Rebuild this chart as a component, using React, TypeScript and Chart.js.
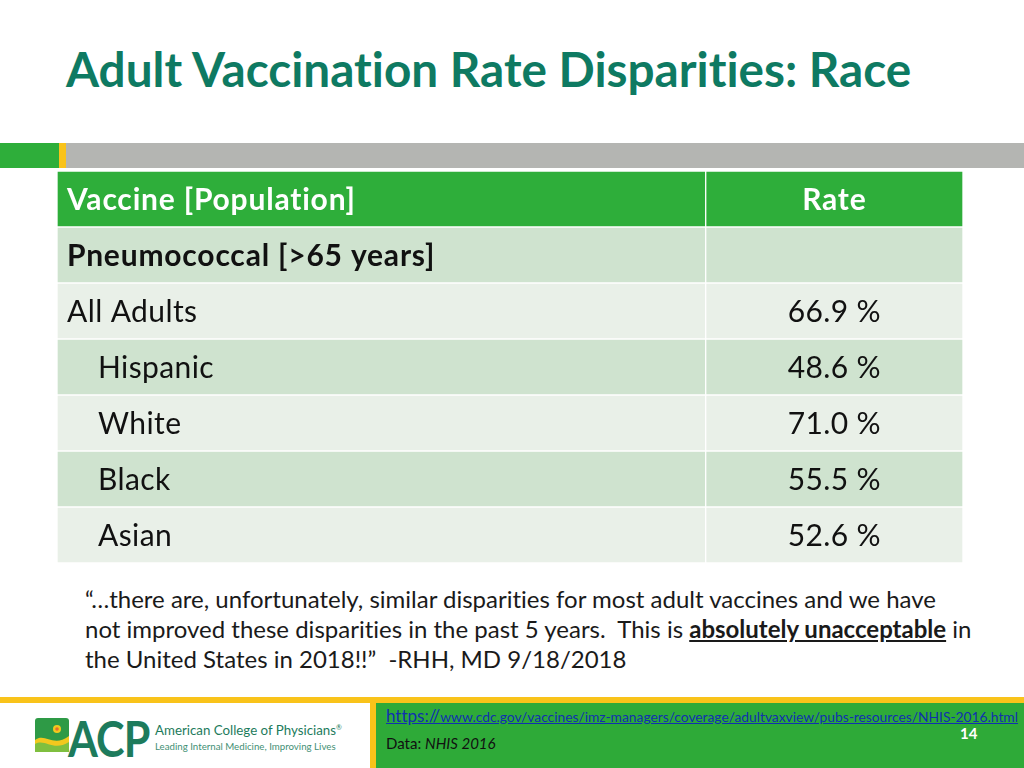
import React, { useEffect, useRef } from "react";
import { Chart, registerables } from "chart.js";

Chart.register(...registerables);

// ---- data ----
const rowLabels = [
  "Vaccine [Population]",
  "Pneumococcal [>65 years]",
  "All Adults",
  "Hispanic",
  "White",
  "Black",
  "Asian",
];
const rowKinds = ["header", "section", "total", "sub", "sub", "sub", "sub"];
const rateHeader = "Rate";
const rateValues: (number | null)[] = [null, null, 66.9, 48.6, 71.0, 55.5, 52.6];

// ---- styles ----
const SPLIT = 71.6; // column boundary on the 0..100 width scale
const FONT = "Lato, 'Open Sans', 'DejaVu Sans', sans-serif";
const HEADER_BG = "#2eae3a";
const DARK_BG = "#cfe3cf";
const LIGHT_BG = "#e9f0e8";

const rowColor = (i: number) =>
  i === 0 ? HEADER_BG : i % 2 === 1 ? DARK_BG : LIGHT_BG;

const tableText = {
  id: "tableText",
  afterDatasetsDraw(chart: any) {
    const { ctx } = chart;
    const xs = chart.scales.x;
    const ys = chart.scales.y;
    ctx.save();
    ctx.textBaseline = "middle";
    rowLabels.forEach((lab, i) => {
      const py = ys.getPixelForValue(i);
      const kind = rowKinds[i];
      const bold = kind === "header" || kind === "section";
      (ctx as any).letterSpacing = bold ? "0.8px" : "0.4px";
      ctx.fillStyle = kind === "header" ? "#ffffff" : "#111111";
      ctx.font = `${bold ? "bold " : ""}30px ${FONT}`;
      ctx.textAlign = "left";
      const indent = kind === "sub" ? 41 : 10;
      ctx.fillText(lab, xs.getPixelForValue(0) + indent, py + 1);
      const cx = xs.getPixelForValue((SPLIT + 100) / 2);
      ctx.textAlign = "center";
      if (kind === "header") {
        ctx.fillText(rateHeader, cx, py + 1);
      } else {
        const v = rateValues[i];
        if (v !== null) {
          (ctx as any).letterSpacing = "0.4px";
          ctx.font = `30px ${FONT}`;
          ctx.fillText(`${v.toFixed(1)} %`, cx, py + 1);
        }
      }
    });
    ctx.restore();
  },
};

function TableChart() {
  const ref = useRef<HTMLCanvasElement>(null);
  useEffect(() => {
    if (!ref.current) return;
    const colors = rowLabels.map((_, i) => rowColor(i));
    const chart = new Chart(ref.current, {
      type: "bar",
      data: {
        labels: rowLabels,
        datasets: [
          {
            data: rowLabels.map(() => [0, SPLIT]) as any,
            backgroundColor: colors,
            borderColor: "#ffffff",
            borderWidth: 1,
            borderSkipped: false,
            grouped: false,
            barPercentage: 1,
            categoryPercentage: 1,
          } as any,
          {
            data: rowLabels.map(() => [SPLIT, 100]) as any,
            backgroundColor: colors,
            borderColor: "#ffffff",
            borderWidth: 1,
            borderSkipped: false,
            grouped: false,
            barPercentage: 1,
            categoryPercentage: 1,
          } as any,
        ],
      },
      options: {
        indexAxis: "y",
        responsive: false,
        animation: false,
        devicePixelRatio: 1,
        layout: { padding: 0 },
        plugins: {
          legend: { display: false },
          tooltip: { enabled: false },
        },
        scales: {
          x: { display: false, min: 0, max: 100 },
          y: { display: false },
        },
      } as any,
      plugins: [tableText],
    });
    return () => chart.destroy();
  }, []);
  return <canvas ref={ref} width={906} height={392} style={{ display: "block" }} />;
}

function Logo() {
  return (
    <div style={{ position: "absolute", left: 35, top: 714, width: 320, height: 44 }}>
      <svg width={34} height={34} style={{ position: "absolute", left: 0, top: 4 }}>
        <rect x={0} y={0} width={34} height={34} rx={3} fill="#2e9a46" />
        <path d="M0 22 C 10 14, 18 30, 34 18 L34 34 L0 34 Z" fill="#f2c81e" />
        <path d="M0 26 C 10 20, 18 34, 34 24 L34 34 L0 34 Z" fill="#7fbf3f" />
        <circle cx={22} cy={11} r={4} fill="#f2c81e" />
        <circle cx={22} cy={11} r={1.8} fill="#e86c2c" />
      </svg>
      <div
        style={{
          position: "absolute",
          left: 33,
          top: -6,
          fontFamily: FONT,
          fontSize: 50,
          fontWeight: 700,
          color: "#1d7b5c",
          letterSpacing: -1,
          transform: "scaleX(0.86)",
          transformOrigin: "left top",
        }}
      >
        ACP
      </div>
      <div
        style={{
          position: "absolute",
          left: 120,
          top: 8,
          fontFamily: FONT,
          fontSize: 13.3,
          color: "#1d7b5c",
          whiteSpace: "nowrap",
        }}
      >
        American College of Physicians<sup style={{ fontSize: 7 }}>®</sup>
      </div>
      <div
        style={{
          position: "absolute",
          left: 120,
          top: 26,
          fontFamily: FONT,
          fontSize: 9.7,
          color: "#3f8f74",
          whiteSpace: "nowrap",
        }}
      >
        Leading Internal Medicine, Improving Lives
      </div>
    </div>
  );
}

export default function App() {
  return (
    <div
      style={{
        position: "absolute",
        left: 0,
        top: 0,
        width: 1024,
        height: 768,
        background: "#ffffff",
        overflow: "hidden",
        fontFamily: FONT,
        fontVariantLigatures: "none",
      }}
    >
      <div
        style={{
          position: "absolute",
          left: 66,
          top: 40,
          fontSize: 47.7,
          fontWeight: 700,
          color: "#0e7a62",
          whiteSpace: "nowrap",
        }}
      >
        Adult Vaccination Rate Disparities: Race
      </div>
      {/* top bar */}
      <div style={{ position: "absolute", left: 0, top: 143, width: 59, height: 25, background: "#2eae3a" }} />
      <div style={{ position: "absolute", left: 59, top: 143, width: 7, height: 25, background: "#f9c31a" }} />
      <div style={{ position: "absolute", left: 66, top: 143, width: 958, height: 25, background: "#b4b5b2" }} />

      <div style={{ position: "absolute", left: 57, top: 171 }}>
        <TableChart />
      </div>

      <div
        style={{
          position: "absolute",
          left: 85,
          top: 584,
          width: 930,
          fontSize: 24,
          lineHeight: "30px",
          color: "#1a1a1a",
          whiteSpace: "nowrap",
        }}
      >
        “…there are, unfortunately, similar disparities for most adult vaccines and we have
        <br />
        not improved these disparities in the past 5 years.&nbsp; This is{" "}
        <b style={{ textDecoration: "underline" }}>absolutely unacceptable</b> in
        <br />
        the United States in 2018!!”&nbsp; -RHH, MD 9/18/2018
      </div>

      {/* footer */}
      <div style={{ position: "absolute", left: 0, top: 697, width: 1024, height: 6, background: "#f9c31a" }} />
      <div style={{ position: "absolute", left: 370, top: 697, width: 6, height: 71, background: "#f9c31a" }} />
      <div style={{ position: "absolute", left: 376, top: 703, width: 648, height: 65, background: "#2eaa38" }} />
      <Logo />
      <div
        style={{
          position: "absolute",
          left: 386,
          top: 705,
          whiteSpace: "nowrap",
          color: "#1030b0",
          textDecoration: "underline",
        }}
      >
        <span style={{ fontSize: 17 }}>https://</span>
        <span style={{ fontSize: 13.8 }}>www.cdc.gov/vaccines/imz-managers/coverage/adultvaxview/pubs-resources/NHIS-2016.html</span>
      </div>
      <div
        style={{
          position: "absolute",
          left: 960,
          top: 724,
          fontSize: 15,
          fontWeight: 700,
          color: "#ffffff",
        }}
      >
        14
      </div>
      <div style={{ position: "absolute", left: 386, top: 734, fontSize: 15, color: "#111" }}>
        Data: <i>NHIS 2016</i>
      </div>
    </div>
  );
}
